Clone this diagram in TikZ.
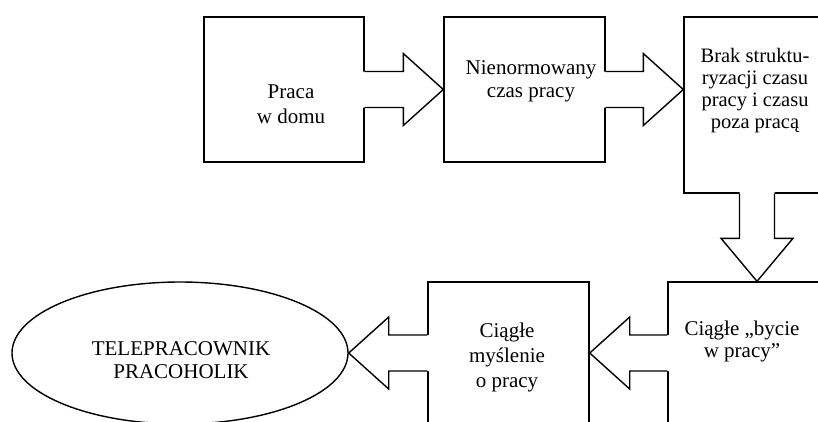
\documentclass[tikz,border=0pt]{standalone}
\usepackage{fontspec}
\setmainfont{Liberation Serif}
\usetikzlibrary{calc,shapes.geometric}
\newcommand\harrow[3]{%
  \fill[white] ($(#1)+(-1.5*#3,-18)$) -- ($(#2)+(-40*#3,-18)$) -- ($(#2)+(-40*#3,-36)$) -- (#2) -- ($(#2)+(-40*#3,36)$) -- ($(#2)+(-40*#3,18)$) -- ($(#1)+(-1.5*#3,18)$) -- cycle;
  \draw[blk] ($(#1)+(0,-18)$) -- ($(#2)+(-40*#3,-18)$) -- ($(#2)+(-40*#3,-36)$) -- (#2) -- ($(#2)+(-40*#3,36)$) -- ($(#2)+(-40*#3,18)$) -- ($(#1)+(0,18)$);}
\begin{document}
\begin{tikzpicture}[x=1pt,y=-1pt,
  blk/.style={line width=1.4pt, line join=miter},
  boxs/.style={draw, line width=1.4pt, rectangle, inner sep=0pt},
  txt/.style={align=center, inner sep=0pt, font=\fontsize{21}{25}\selectfont}]
\useasboundingbox (0,0) rectangle (818,421);
\clip (0,0) rectangle (818,421);
% boxes
\node[boxs, minimum width=160pt, minimum height=145pt] (b1) at (284,89.5) {};
\node[boxs, minimum width=161pt, minimum height=145pt] (b2) at (524.5,89.5) {};
\node[boxs, minimum width=146pt, minimum height=176pt] (b3) at (757,105) {};
\node[boxs, minimum width=162pt, minimum height=168pt] (b4) at (749,366) {};
\node[boxs, minimum width=161pt, minimum height=168pt] (b5) at (508.5,366) {};
\node[draw, line width=1.4pt, ellipse, inner sep=0pt, minimum width=336pt, minimum height=142pt] (e) at (180,353) {};
% connector end points
\coordinate (t2) at (b3.west |- b2.east);
\coordinate (s4) at (b4.west |- e.east);
\coordinate (t4) at (b5.east |- e.east);
\coordinate (s5) at (b5.west |- e.east);
\coordinate (t3) at (b3.south |- b4.north);
% block arrows
\harrow{b1.east}{b2.west}{1}
\harrow{b2.east}{t2}{1}
\harrow{s4}{t4}{-1}
\harrow{s5}{e.east}{-1}
\fill[white] ($(b3.south)+(-17.5,-1.5)$) -- ($(t3)+(-17.5,-43)$) -- ($(t3)+(-36,-43)$) -- (t3) -- ($(t3)+(36,-43)$) -- ($(t3)+(17.5,-43)$) -- ($(b3.south)+(17.5,-1.5)$) -- cycle;
\draw[blk] ($(b3.south)+(-17.5,0)$) -- ($(t3)+(-17.5,-43)$) -- ($(t3)+(-36,-43)$) -- (t3) -- ($(t3)+(36,-43)$) -- ($(t3)+(17.5,-43)$) -- ($(b3.south)+(17.5,0)$);
% texts (base anchor = baseline of last line)
\node[txt, anchor=base] (l1) at (291,123) {Praca\\w domu};
\node[txt, font=\fontsize{21}{23}\selectfont, anchor=base] (l2) at (531,97) {Nienormowany\\czas pracy};
\node[txt, font=\fontsize{20.5}{22}\selectfont, anchor=base] (l3) at (755,128) {Brak struktu-\\ryzacji czasu\\pracy i czasu\\poza pracą};
\node[txt, font=\fontsize{21}{22}\selectfont, anchor=base] (l4) at (742,357) {Ciągłe „bycie\\w pracy”};
\node[txt, anchor=base] (l5) at (507,387) {Ciągłe\\myślenie\\o pracy};
\node[txt, font=\fontsize{21}{23}\selectfont, anchor=base] (l6) at (181,378) {TELEPRACOWNIK\\PRACOHOLIK};
\end{tikzpicture}
\end{document}
